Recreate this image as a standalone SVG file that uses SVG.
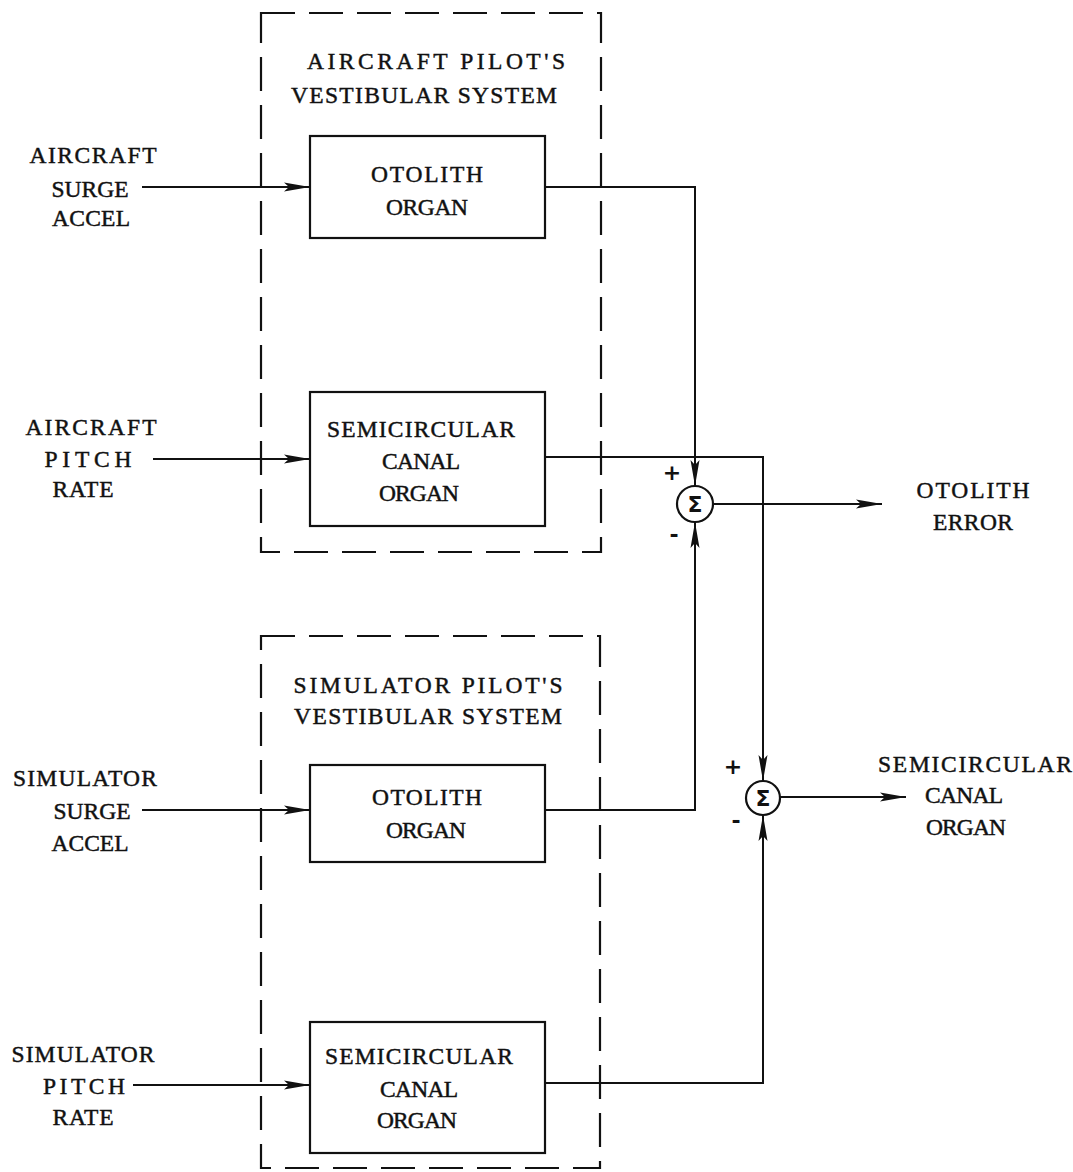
<svg xmlns="http://www.w3.org/2000/svg" width="1073" height="1172" viewBox="0 0 1073 1172">
<defs>
<marker id="ah" markerUnits="userSpaceOnUse" markerWidth="28" markerHeight="12" refX="26" refY="6" orient="auto">
<path d="M0,1.5 L26,6 L0,10.5 L5,6 Z" fill="#111"/>
</marker>
<style>
text{font-family:"Liberation Serif","Times New Roman",serif;font-size:23.5px;fill:#111;text-anchor:middle;stroke:#111;stroke-width:0.45}
.box{fill:none;stroke:#111;stroke-width:2.2}
.dash{fill:none;stroke:#111;stroke-width:2.2;stroke-dasharray:34 14}
.ln{fill:none;stroke:#111;stroke-width:2}
.sig{font-family:"DejaVu Sans",sans-serif;font-size:22px;font-weight:bold;stroke-width:0}
.pm{font-family:"DejaVu Sans",sans-serif;font-size:22px;font-weight:bold;stroke-width:0}
</style>
</defs>
<rect width="1073" height="1172" fill="#fff"/>

<g id="aircraft-system">
<rect class="dash" x="261" y="13" width="340" height="539"/>
<text x="436" y="69" textLength="258" lengthAdjust="spacing">AIRCRAFT PILOT'S</text>
<text x="424" y="103" textLength="266" lengthAdjust="spacing">VESTIBULAR SYSTEM</text>
</g>
<g id="simulator-system">
<rect class="dash" x="261" y="636" width="339" height="532"/>
<text x="428" y="693" textLength="269" lengthAdjust="spacing">SIMULATOR PILOT'S</text>
<text x="428" y="724" textLength="268" lengthAdjust="spacing">VESTIBULAR SYSTEM</text>
</g>

<g id="ac-otolith">
<rect class="box" x="310" y="136" width="235" height="102"/>
<text x="427" y="182" textLength="112" lengthAdjust="spacing">OTOLITH</text>
<text x="427" y="215" textLength="82" lengthAdjust="spacing">ORGAN</text>
</g>
<g id="ac-canal">
<rect class="box" x="310" y="392" width="235" height="134"/>
<text x="421" y="437" textLength="188" lengthAdjust="spacing">SEMICIRCULAR</text>
<text x="421" y="469" textLength="78" lengthAdjust="spacing">CANAL</text>
<text x="419" y="501" textLength="80" lengthAdjust="spacing">ORGAN</text>
</g>
<g id="sim-otolith">
<rect class="box" x="310" y="765" width="235" height="97"/>
<text x="427" y="805" textLength="110" lengthAdjust="spacing">OTOLITH</text>
<text x="426" y="838" textLength="80" lengthAdjust="spacing">ORGAN</text>
</g>
<g id="sim-canal">
<rect class="box" x="310" y="1022" width="235" height="131"/>
<text x="419" y="1064" textLength="188" lengthAdjust="spacing">SEMICIRCULAR</text>
<text x="419" y="1097" textLength="78" lengthAdjust="spacing">CANAL</text>
<text x="417" y="1128" textLength="80" lengthAdjust="spacing">ORGAN</text>
</g>

<g id="in-ac-surge">
<text x="93" y="163" textLength="127" lengthAdjust="spacing">AIRCRAFT</text>
<text x="90" y="197" textLength="77" lengthAdjust="spacing">SURGE</text>
<text x="91" y="226" textLength="78" lengthAdjust="spacing">ACCEL</text>
</g>
<g id="in-ac-pitch">
<text x="91" y="435" textLength="131" lengthAdjust="spacing">AIRCRAFT</text>
<text x="88" y="467" textLength="87" lengthAdjust="spacing">PITCH</text>
<text x="83" y="497" textLength="61" lengthAdjust="spacing">RATE</text>
</g>
<g id="in-sim-surge">
<text x="85" y="786" textLength="144" lengthAdjust="spacing">SIMULATOR</text>
<text x="92" y="819" textLength="77" lengthAdjust="spacing">SURGE</text>
<text x="90" y="851" textLength="77" lengthAdjust="spacing">ACCEL</text>
</g>
<g id="in-sim-pitch">
<text x="83" y="1062" textLength="143" lengthAdjust="spacing">SIMULATOR</text>
<text x="84" y="1094" textLength="82" lengthAdjust="spacing">PITCH</text>
<text x="83" y="1125" textLength="61" lengthAdjust="spacing">RATE</text>
</g>

<g id="sum1">
<circle class="box" cx="695" cy="504" r="18"/>
<text class="sig" x="695" y="512">Σ</text>
<text class="pm" x="672" y="480">+</text>
<text class="pm" x="674" y="542">-</text>
</g>
<g id="sum2">
<circle class="box" cx="763" cy="798" r="17"/>
<text class="sig" x="763" y="806">Σ</text>
<text class="pm" x="733" y="774">+</text>
<text class="pm" x="736" y="828">-</text>
</g>

<g id="out-otolith-error">
<text x="973" y="498" textLength="113" lengthAdjust="spacing">OTOLITH</text>
<text x="973" y="530" textLength="80" lengthAdjust="spacing">ERROR</text>
</g>
<g id="out-canal">
<text x="975" y="772" textLength="194" lengthAdjust="spacing">SEMICIRCULAR</text>
<text x="964" y="803" textLength="78" lengthAdjust="spacing">CANAL</text>
<text x="966" y="835" textLength="80" lengthAdjust="spacing">ORGAN</text>
</g>

<g id="connectors">
<path class="ln" d="M142,187 H310" marker-end="url(#ah)"/>
<path class="ln" d="M153,459 H310" marker-end="url(#ah)"/>
<path class="ln" d="M142,810 H310" marker-end="url(#ah)"/>
<path class="ln" d="M133,1085 H310" marker-end="url(#ah)"/>
<path class="ln" d="M545,187 H695 V486" marker-end="url(#ah)"/>
<path class="ln" d="M545,810 H695 V522" marker-end="url(#ah)"/>
<path class="ln" d="M545,457 H763 V781" marker-end="url(#ah)"/>
<path class="ln" d="M545,1083 H763 V815" marker-end="url(#ah)"/>
<path class="ln" d="M713,504 H882" marker-end="url(#ah)"/>
<path class="ln" d="M780,797 H906" marker-end="url(#ah)"/>
</g>
</svg>
